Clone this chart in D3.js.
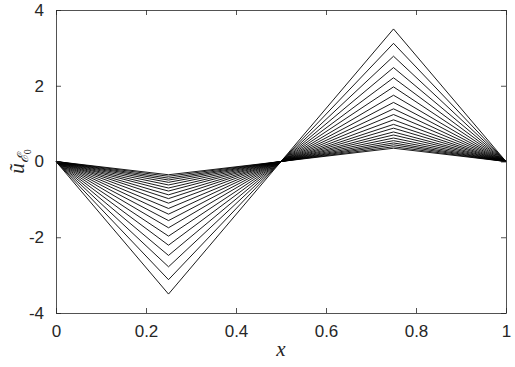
<!DOCTYPE html>
<html>
<head>
<meta charset="utf-8">
<script src="https://cdn.jsdelivr.net/npm/d3@7"></script>
<style>
  body { margin: 0; background: #fff; }
  svg { display: block; }
  .tick text { font-family: "Liberation Sans", Arial, sans-serif; font-size: 17px; fill: #262626; }
</style>
</head>
<body>
<svg></svg>
<script>
// x positions of the knots of each piecewise linear curve
const xKnots = [0, 0.25, 0.5, 0.75, 1];
// amplitude of each curve (peak at x = 0.75, valley at x = 0.25)
const amplitudes = [3.50, 3.12, 2.78, 2.48, 2.21, 1.97, 1.75, 1.56, 1.39, 1.24,
  1.10, 0.98, 0.88, 0.78, 0.70, 0.62, 0.55, 0.49, 0.44, 0.39, 0.35];
const xTicks = [0, 0.2, 0.4, 0.6, 0.8, 1];
const yTicks = [-4, -2, 0, 2, 4];

const w = 515;
const h = 367;
const margin = { top: 10, right: 9, bottom: 54, left: 56 };
const chartW = w - margin.left - margin.right;
const chartH = h - margin.top - margin.bottom;

const svg = d3.select("svg").attr("width", w).attr("height", h);
const chart = svg.append("g")
  .attr("transform", `translate(${margin.left}, ${margin.top})`);

const xScale = d3.scaleLinear().domain([0, 1]).range([0, chartW]);
const yScale = d3.scaleLinear().domain([-4, 4]).range([chartH, 0]);

// curves
const line = d3.line().x(d => xScale(d[0])).y(d => yScale(d[1]));
chart.selectAll(".curve")
  .data(amplitudes)
  .enter()
  .append("path")
  .attr("class", "curve")
  .attr("d", a => line(xKnots.map((x, i) => [x, [0, -a, 0, a, 0][i]])))
  .attr("fill", "none")
  .attr("stroke", "#000")
  .attr("stroke-width", 0.9);

// axes with inward ticks, box on all sides
const axisColor = "#262626";
const fmt = d => String(d); // plain hyphen for negatives, like the original

const xAxis = chart.append("g")
  .attr("transform", `translate(0, ${chartH})`)
  .call(d3.axisBottom(xScale).tickValues(xTicks).tickFormat(fmt).tickSizeInner(-5).tickSizeOuter(0).tickPadding(11));
const xTop = chart.append("g")
  .call(d3.axisTop(xScale).tickValues(xTicks).tickFormat("").tickSizeInner(-5).tickSizeOuter(0));
const yAxis = chart.append("g")
  .call(d3.axisLeft(yScale).tickValues(yTicks).tickFormat(fmt).tickSizeInner(-5).tickSizeOuter(0).tickPadding(12));
const yRight = chart.append("g")
  .attr("transform", `translate(${chartW}, 0)`)
  .call(d3.axisRight(yScale).tickValues(yTicks).tickFormat("").tickSizeInner(-5).tickSizeOuter(0));

[xAxis, xTop, yAxis, yRight].forEach(g => {
  g.selectAll("path, line").attr("stroke", axisColor).attr("stroke-width", 0.8);
});
xAxis.selectAll(".tick text").attr("dy", "0.75em");

// axis titles
svg.append("text")
  .attr("x", margin.left + chartW / 2)
  .attr("y", 356)
  .attr("text-anchor", "middle")
  .attr("font-family", "'Liberation Serif', serif")
  .attr("font-style", "italic")
  .attr("font-size", 21)
  .attr("fill", axisColor)
  .text("x");

const yTitle = svg.append("text")
  .attr("transform", `translate(24, ${margin.top + chartH / 2}) rotate(-90)`)
  .attr("text-anchor", "middle")
  .attr("font-family", "'Liberation Serif', serif")
  .attr("font-size", 21)
  .attr("fill", axisColor);
yTitle.append("tspan").attr("font-style", "italic").text("ũ");
yTitle.append("tspan").attr("font-style", "italic").attr("font-size", 15).attr("dy", 4).text("ℰ");
yTitle.append("tspan").attr("font-size", 10).attr("dy", 3).text("0");
</script>
</body>
</html>
